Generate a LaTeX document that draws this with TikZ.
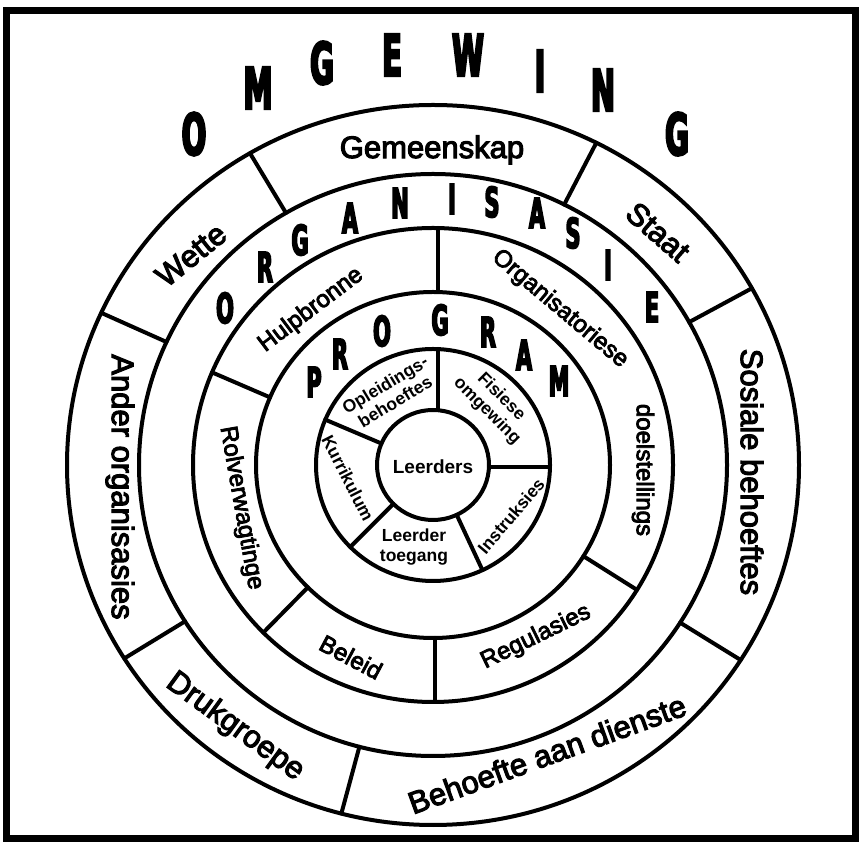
\documentclass[tikz,border=0pt]{standalone}
\usepackage{fontspec}
\setmainfont{Liberation Sans}
\newfontfamily\labelfont[FakeBold=3.5]{Liberation Sans}
\newfontfamily\titlefont[FakeStretch=0.58,FakeBold=4]{DejaVu Sans}
\usetikzlibrary{calc}
\newcommand\tallletter[1]{\scalebox{1}[1.15]{#1}}
\tikzset{
  ringline/.style={line width=4pt, line cap=round},
  lblouter/.style={font=\labelfont\fontsize{31}{31}\selectfont, inner sep=0pt},
  lblmid/.style={font=\labelfont\fontsize{24}{24}\selectfont, inner sep=0pt},
  lblinner/.style={font=\bfseries\fontsize{17.5}{20}\selectfont, inner sep=0pt, align=center},
  ttlmid/.style={font=\titlefont\bfseries\fontsize{36}{36}\selectfont, inner sep=0pt},
  ttlouter/.style={font=\titlefont\bfseries\fontsize{50}{50}\selectfont, inner sep=0pt},
}
\newcommand\radialline[3]{\draw[ringline] ($(C)+(#1:#2)$) -- ($(C)+(#1:#3)$);}
\begin{document}
\begin{tikzpicture}[x=1pt,y=1pt]
\useasboundingbox (0,0) rectangle (859,843);
\fill[white] (0,0) rectangle (859,843);
\draw[line width=7pt] (6.5,4.5) rectangle (855,832);
\coordinate (C) at (433,378);
% circles
\draw[ringline] (C) ellipse [x radius=56, y radius=55];
\draw[ringline] (C) ellipse [x radius=117, y radius=116];
\draw[ringline] (C) ellipse [x radius=177, y radius=173];
\draw[ringline] (C) ellipse [x radius=240, y radius=237];
\draw[ringline] (C) ellipse [x radius=294, y radius=291];
\draw[ringline] (C) ellipse [x radius=366, y radius=360];
% outer ring dividers
\radialline{63.5}{294 and 291}{366 and 360}
\radialline{120}{294 and 291}{366 and 360}
\radialline{155}{294 and 291}{366 and 360}
\radialline{212.5}{294 and 291}{366 and 360}
\radialline{255.5}{294 and 291}{366 and 360}
\radialline{327.2}{294 and 291}{366 and 360}
\radialline{29.4}{294 and 291}{366 and 360}
% organisation ring dividers
\radialline{157}{177 and 173}{240 and 237}
\radialline{225}{177 and 173}{240 and 237}
\radialline{328.2}{177 and 173}{240 and 237}
\draw[ringline] (438,551) -- (438,615);
\draw[ringline] (435,205) -- (435,141);
% program ring dividers
\radialline{157}{56 and 55}{117 and 116}
\radialline{225}{56 and 55}{117 and 116}
\radialline{295}{56 and 55}{117 and 116}
\draw[ringline] (489,375.5) -- (550,375.5);
\draw[ringline] (438,433) -- (438,494);
% outer labels
\node[lblouter] (gem) at (432,693) {Gemeenskap};
\node[lblouter, rotate=39] (wet) at (191,588) {Wette};
\node[lblouter, rotate=-90] (and) at (120,356) {Ander organisasies};
\node[lblouter, rotate=-90] (sos) at (752,371) {Sosiale behoeftes};
\node[lblouter, rotate=-41] (sta) at (658,611) {Staat};
\node[lblouter, rotate=-36] (dru) at (235,116) {Drukgroepe};
\node[lblouter, rotate=20] (beh) at (547,89) {Behoefte aan dienste};
% organisation labels
\node[lblmid, rotate=37] (hul) at (311,533) {Hulpbronne};
\node[lblmid, rotate=-40] (org) at (560,534) {Organisatoriese};
\node[lblmid, rotate=-90] (doe) at (643,373) {doelstellings};
\node[lblmid, rotate=-80] (rol) at (241,335) {Rolverwagtinge};
\node[lblmid, rotate=-28] (bel) at (351,186) {Beleid};
\node[lblmid, rotate=26] (reg) at (536,206) {Regulasies};
% program labels
\node[lblinner, rotate=31] (opl) at (390,450) {Opleidings-\\behoeftes};
\node[lblinner, rotate=-45] (fis) at (494,439) {Fisiese\\omgewing};
\node[lblinner, rotate=-63] (kur) at (348,365) {Kurrikulum};
\node[lblinner] (lto) at (414,296) {Leerder\\toegang};
\node[lblinner, rotate=49.5] (ins) at (511,327) {Instruksies};
\node[lblinner, font=\bfseries\fontsize{19}{19}\selectfont] (lee) at (433,376) {Leerders};
% PROGRAM
\node[ttlmid] (p1) at (314,461) {\tallletter{P}};
\node[ttlmid] (p2) at (340,489) {\tallletter{R}};
\node[ttlmid] (p3) at (382,512) {\tallletter{O}};
\node[ttlmid] (p4) at (440,523) {\tallletter{G}};
\node[ttlmid] (p5) at (488,511) {\tallletter{R}};
\node[ttlmid] (p6) at (524,488) {\tallletter{A}};
\node[ttlmid] (p7) at (559,462) {\tallletter{M}};
% ORGANISASIE
\node[ttlmid] (o1) at (225,535) {\tallletter{O}};
\node[ttlmid] (o2) at (265,576) {\tallletter{R}};
\node[ttlmid] (o3) at (300,603) {\tallletter{G}};
\node[ttlmid] (o4) at (350,625) {\tallletter{A}};
\node[ttlmid] (o5) at (400,640) {\tallletter{N}};
\node[ttlmid] (o6) at (452,644) {\tallletter{I}};
\node[ttlmid] (o7) at (492,641) {\tallletter{S}};
\node[ttlmid] (o8) at (537,630) {\tallletter{A}};
\node[ttlmid] (o9) at (573,610) {\tallletter{S}};
\node[ttlmid] (o10) at (608,578) {\tallletter{I}};
\node[ttlmid] (o11) at (652,536) {\tallletter{E}};
% OMGEWING
\node[ttlouter] (m1) at (194,709) {\tallletter{O}};
\node[ttlouter] (m2) at (258,755) {\tallletter{M}};
\node[ttlouter] (m3) at (322,780) {\tallletter{G}};
\node[ttlouter] (m4) at (392,788) {\tallletter{E}};
\node[ttlouter] (m5) at (468,788) {\tallletter{W}};
\node[ttlouter] (m6) at (540,772) {\tallletter{I}};
\node[ttlouter] (m7) at (603,753) {\tallletter{N}};
\node[ttlouter] (m8) at (677,709) {\tallletter{G}};
\end{tikzpicture}
\end{document}
